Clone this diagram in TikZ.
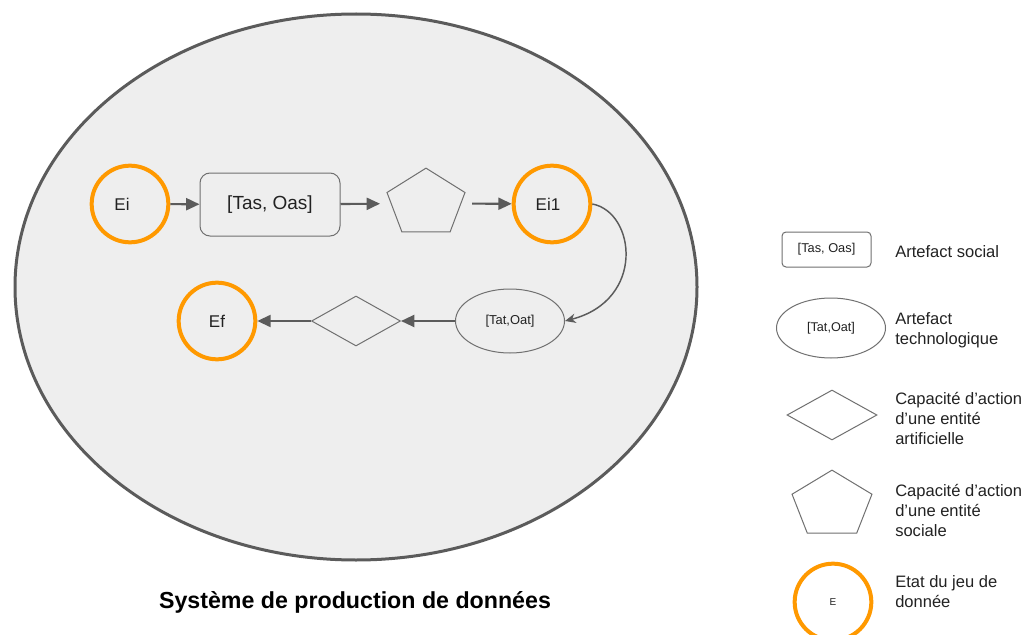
\documentclass[tikz,border=0pt]{standalone}
\usepackage{fontspec}
\setmainfont{Liberation Sans}
\usetikzlibrary{shapes.geometric,arrows.meta}
\definecolor{orng}{HTML}{FF9900}
\definecolor{bgfill}{HTML}{EEEEEE}
\definecolor{edgec}{HTML}{5B5B5B}
\definecolor{shapec}{HTML}{707070}
\definecolor{txtc}{HTML}{222222}
\begin{document}
\begin{tikzpicture}[x=0.75pt,y=0.75pt,
  state/.style={circle,draw=orng,line width=3pt,minimum size=57.5pt,inner sep=0pt,text=txtc,font=\fontsize{12.75}{15}\selectfont},
  socbox/.style={rectangle,rounded corners=7.5pt,draw=shapec,line width=0.75pt,inner sep=0pt,text=txtc},
  techell/.style={ellipse,draw=shapec,line width=0.75pt,inner sep=0pt,text=txtc},
  artdia/.style={diamond,draw=shapec,line width=0.75pt,inner sep=0pt},
  socpent/.style={regular polygon,regular polygon sides=5,draw=shapec,line width=0.75pt,inner sep=0pt},
  arr/.style={draw=edgec,line width=1.6pt,-{Triangle[length=10pt,width=9pt]}},
  curvearr/.style={draw=edgec,line width=1.1pt,-{Stealth[length=8pt,width=7pt,inset=2.5pt]}},
  legtext/.style={anchor=west,align=left,inner sep=0pt,text=txtc,font=\fontsize{12.4}{15}\selectfont}
]
\useasboundingbox (0,0) rectangle (1029,-635);
\fill[white] (0,0) rectangle (1029,-635);
% system boundary
\draw[draw=edgec,fill=bgfill,line width=2.25pt] (356,-287) ellipse [x radius=255.75pt,y radius=204.75pt];
% main flow
\node[state] (Ei) at (130,-204) {Ei\kern12pt};
\node[socbox,minimum width=105pt,minimum height=47.25pt,font=\fontsize{14.25}{17}\selectfont] (soc) at (270,-204.5) {[Tas, Oas]};
\begin{scope}[shift={(426,-203.4)}]
  \node[socpent,minimum size=61.5pt,yscale=0.86] (pent) at (0,0) {};
\end{scope}
\node[state] (Ei1) at (552,-204) {Ei1\kern6pt};
\node[techell,minimum width=81.75pt,minimum height=48pt,font=\fontsize{9.7}{12}\selectfont] (tech) at (510,-321) {[Tat,Oat]};
\node[artdia,minimum width=66.75pt,minimum height=37.5pt] (dia) at (356,-321) {};
\node[state] (Ef) at (217,-321) {Ef};
\draw[arr] (Ei) -- (soc);
\draw[arr,shorten >=8pt] (soc) -- (pent);
\draw[arr,shorten <=8pt] (pent) -- (Ei1);
\draw[curvearr] (Ei1.east) .. controls +(43,-8) and +(81,21) .. (tech.east);
\draw[arr] (tech) -- (dia);
\draw[arr] (dia) -- (Ef);
\node[font=\bfseries\fontsize{17.4}{20}\selectfont] (title) at (355,-602) {Système de production de données};
% legend
\node[socbox,minimum width=66.75pt,minimum height=26.25pt,rounded corners=3pt,fill=white,font=\fontsize{9.6}{11}\selectfont] (lsoc) at (826.5,-249.5) {[Tas, Oas]};
\node[legtext] (tsoc) at (895,-252) {Artefact social};
\node[techell,fill=white,minimum width=81.75pt,minimum height=45pt,font=\fontsize{9.5}{11}\selectfont] (ltech) at (831,-328) {[Tat,Oat]};
\node[legtext] (ttech) at (895,-330) {Artefact\\technologique};
\node[artdia,fill=white,minimum width=67.5pt,minimum height=37.5pt] (ldia) at (832,-415) {};
\node[legtext] (tdia) at (895,-418) {Capacité d’action\\d’une entité\\artificielle};
\begin{scope}[shift={(832,-505)}]
  \node[socpent,fill=white,minimum size=63pt,yscale=0.83] (lpent) at (0,0) {};
\end{scope}
\node[legtext] (tpent) at (895,-510) {Capacité d’action\\d’une entité\\sociale};
\node[state,font=\fontsize{7.5}{9}\selectfont] (lstate) at (833,-602) {E};
\node[legtext] (tstate) at (895,-592) {Etat du jeu de\\donnée};
\end{tikzpicture}
\end{document}
